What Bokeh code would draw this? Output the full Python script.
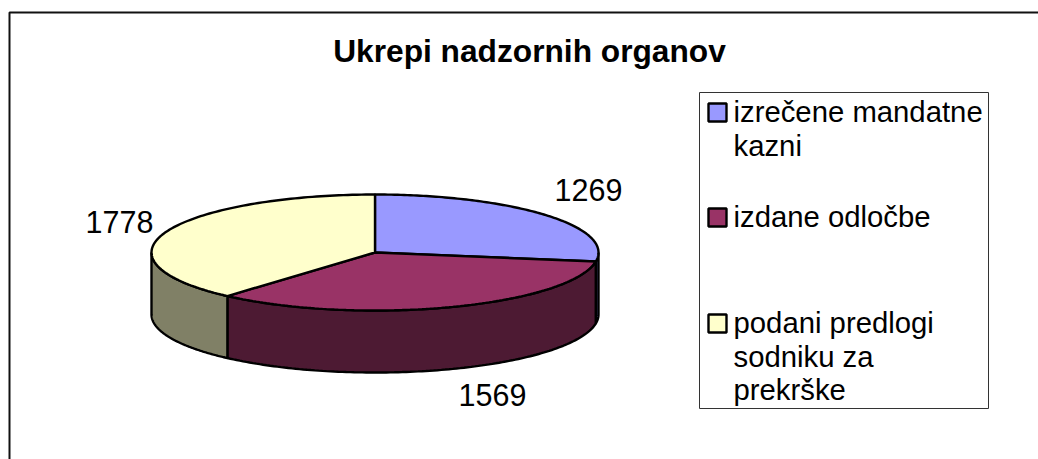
import numpy as np
from bokeh.plotting import figure
from bokeh.models import Range1d
from bokeh.core.properties import value
from bokeh.embed import file_html
from bokeh.resources import INLINE

title = "Ukrepi nadzornih organov"
categories = ["izrečene mandatne kazni", "izdane odločbe", "podani predlogi sodniku za prekrške"]
legend_lines = [["izrečene mandatne", "kazni"], ["izdane odločbe"], ["podani predlogi", "sodniku za", "prekrške"]]
values = [1269, 1569, 1778]
top_colors = ["#9999FF", "#993366", "#FFFFCC"]
side_colors = ["#4D4D80", "#4D1A33", "#808066"]

FONT = value("Liberation Sans")
CX, CY, RX, RY, DEPTH = 374.5, 252, 223.5, 58, 62

p = figure(width=1038, height=459, output_backend="svg", toolbar_location=None,
           x_range=Range1d(0, 1038), y_range=Range1d(459, 0),
           x_axis_location=None, y_axis_location=None, min_border=0,
           background_fill_color="white", border_fill_color="white", outline_line_color=None)
p.grid.visible = False


def arc(a0, a1, dy=0.0):
    t = np.radians(np.linspace(a0, a1, 120))
    return CX + RX * np.sin(t), CY + dy - RY * np.cos(t)


# chart frame
p.line([9, 9, 1038], [459, 12, 12], line_color="#111111", line_width=2)

# slices, clockwise from 12 o'clock
edges = np.concatenate([[0], np.cumsum(values)]) / np.sum(values) * 360

# visible side walls
for i, color in enumerate(side_colors):
    a0, a1 = max(edges[i], 90), min(edges[i + 1], 270)
    if a1 <= a0:
        continue
    xt, yt = arc(a0, a1)
    xb, yb = arc(a1, a0, DEPTH)
    p.patch(np.r_[xt, xb], np.r_[yt, yb], fill_color=color, line_color="black", line_width=2.4)

# top faces
for i, color in enumerate(top_colors):
    xt, yt = arc(edges[i], edges[i + 1])
    p.patch(np.r_[CX, xt], np.r_[CY, yt], fill_color=color, line_color="black", line_width=2.4)

# title and data labels
p.text([529], [50], text=[title], text_font=FONT, text_font_style="bold", text_font_size="31.7px",
       text_align="center", text_baseline="middle", text_color="black")
p.text([588, 492, 119], [189.5, 394.5, 221.5], text=[str(v) for v in values], text_font=FONT,
       text_font_size="30.5px", text_align="center", text_baseline="middle", text_color="black")

# legend
p.quad(left=[699], right=[988], top=[92], bottom=[408], fill_color="white",
       line_color="#333333", line_width=1)
row_y = [112, 217, 323]
for lines, y, color in zip(legend_lines, row_y, top_colors):
    p.quad(left=[708], right=[726], top=[y - 9], bottom=[y + 9], fill_color=color,
           line_color="black", line_width=2.4)
    ys = [y - 1 + 33.5 * k for k in range(len(lines))]
    p.text([733] * len(lines), ys, text=lines, text_font=FONT, text_font_size="29.3px",
           text_align="left", text_baseline="middle", text_color="black")

open("out.html", "w").write(file_html(p, INLINE))
